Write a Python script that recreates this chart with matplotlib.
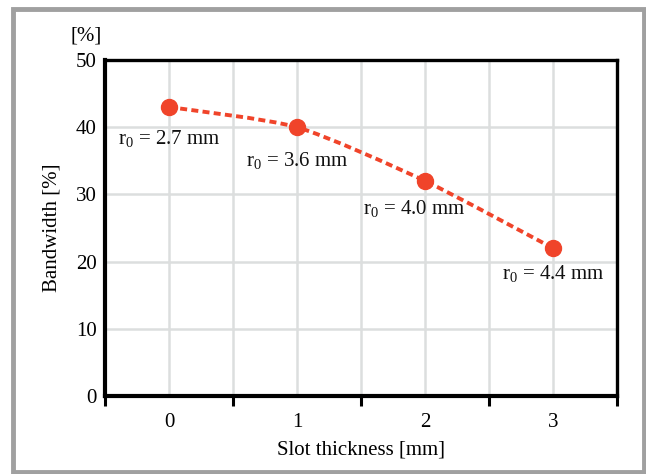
import matplotlib
matplotlib.use("Agg")
import matplotlib.pyplot as plt
from matplotlib.path import Path
from matplotlib.patches import PathPatch, Rectangle
import numpy as np

categories = ["0", "1", "2", "3"]
bandwidth = [43, 40, 32, 22]
labels = ["2.7", "3.6", "4.0", "4.4"]
y_ticks = [0, 10, 20, 30, 40, 50]

plt.rcParams['font.family'] = ['Liberation Serif', 'DejaVu Serif']
plt.rcParams['mathtext.fontset'] = 'custom'
plt.rcParams['mathtext.rm'] = 'Liberation Serif'
plt.rcParams['mathtext.it'] = 'Liberation Serif:italic'

FS = 15

fig = plt.figure(figsize=(6.46, 4.74), dpi=100)
ax = fig.add_axes([105/646, 1 - 396/474, (617-105)/646, (396-60)/474])

red = '#f0442a'
x = np.arange(len(categories))
y = np.array(bandwidth, dtype=float)

# smooth curve through points (Catmull-Rom style -> Bezier)
k = 1/9
verts = [(x[0], y[0])]
codes = [Path.MOVETO]
n = len(x)
for i in range(n - 1):
    p0 = (x[i-1], y[i-1]) if i > 0 else (x[i], y[i])
    p1 = (x[i], y[i])
    p2 = (x[i+1], y[i+1])
    p3 = (x[i+2], y[i+2]) if i + 2 < n else (x[i+1], y[i+1])
    c1 = (p1[0] + (p2[0]-p0[0])*k, p1[1] + (p2[1]-p0[1])*k)
    c2 = (p2[0] - (p3[0]-p1[0])*k, p2[1] - (p3[1]-p1[1])*k)
    verts += [c1, c2, p2]
    codes += [Path.CURVE4]*3
patch = PathPatch(Path(verts, codes), facecolor='none', edgecolor=red,
                  lw=2.8, linestyle=(0, (1.8, 1.1)), zorder=3)
ax.add_patch(patch)
ax.plot(x, y, 'o', color=red, markersize=11.5, zorder=4)

offsets = [(0, -23), (0, -24), (-8, -20), (0, -18)]
for xi, yi, lab, off in zip(x, y, labels, offsets):
    ax.annotate(r'r$_0$ = ' + lab + ' mm', (xi, yi), xytext=off,
                textcoords='offset points', ha='center', va='center',
                fontsize=FS, color='#111111', zorder=5)

ax.set_xlim(-0.5, 3.5)
ax.set_ylim(0, 50)
ax.set_yticks(y_ticks)
ax.set_xticks(x)
ax.set_xticklabels(categories)
ax.set_xticks(np.arange(-0.5, 3.6, 1.0), minor=True)
ax.tick_params(axis='x', which='major', length=0, labelsize=FS, pad=12)
ax.tick_params(axis='x', which='minor', length=7, width=2.2, color='black', direction='out')
ax.tick_params(axis='y', length=0, labelsize=FS, pad=6)

for v in np.arange(-0.5, 3.6, 0.5):
    ax.axvline(v, color='#dcdede', lw=1.8, zorder=0)
for v in y_ticks:
    ax.axhline(v, color='#dcdede', lw=1.8, zorder=0)

for s in ['left', 'bottom']:
    ax.spines[s].set_linewidth(3)
for s in ['top', 'right']:
    ax.spines[s].set_linewidth(2.4)
for s in ax.spines.values():
    s.set_color('black')
    s.set_zorder(6)

ax.set_xlabel('Slot thickness [mm]', fontsize=FS, labelpad=6)
ax.set_ylabel('Bandwidth [%]', fontsize=FS, labelpad=10)
fig.text(86/646, 1 - 36/474, '[%]', fontsize=FS, ha='center', va='center')

fig.patches.append(Rectangle((13.5/646, 1 - 472/474), (644-13.5)/646, (472-9)/474,
                             transform=fig.transFigure, fill=False,
                             edgecolor='#a0a0a0', lw=3.5))

fig.savefig('out.png', dpi=100)
